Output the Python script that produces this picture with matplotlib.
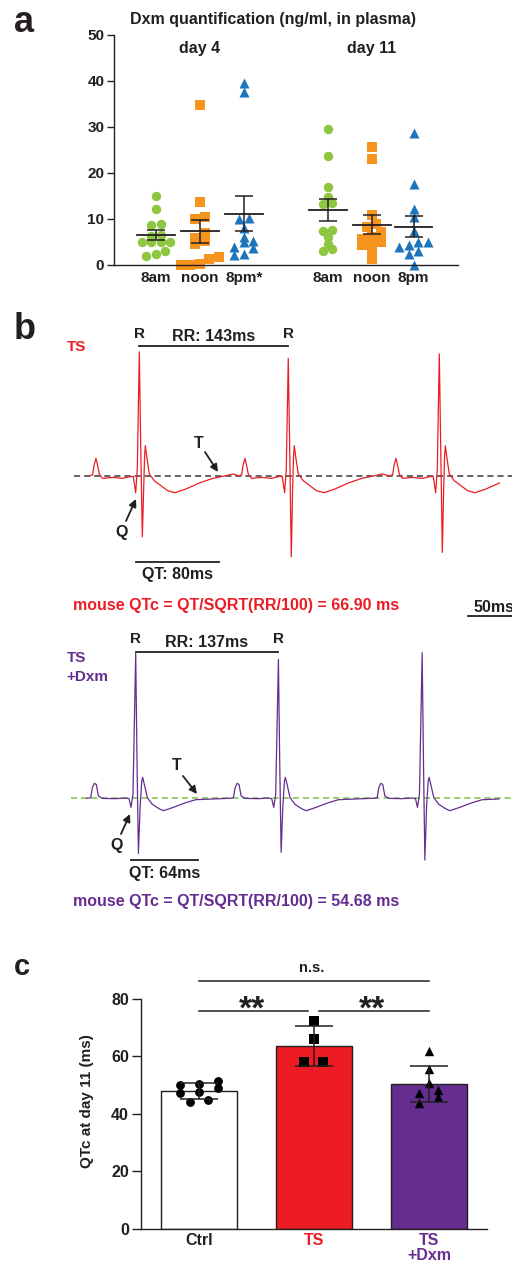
import numpy as np
import matplotlib
matplotlib.use('Agg')
import matplotlib.pyplot as plt

plt.rcParams['font.family'] = ['Liberation Sans', 'DejaVu Sans']
plt.rcParams['font.weight'] = 'bold'
plt.rcParams['axes.labelweight'] = 'bold'

# ---------------- data ----------------
# panel a : Dxm plasma concentration (ng/ml)
a_labels = ['8am', 'noon', '8pm*', '8am', 'noon', '8pm']
d4_8am = [15.0, 12.1, 9.0, 8.8, 6.5, 6.3, 5.1, 5.0, 5.0, 5.1, 3.1, 2.4, 1.9]
d4_noon = [34.7, 13.7, 10.4, 10.0, 6.9, 5.9, 5.2, 4.5, 1.8, 1.2, 0.2, 0.1, 0.1]
d4_8pm = [39.6, 37.6, 10.3, 9.9, 8.1, 6.1, 5.3, 4.9, 4.0, 3.6, 2.3, 2.2]
d11_8am = [29.5, 23.8, 17.0, 14.8, 13.4, 13.2, 7.7, 7.5, 6.0, 4.6, 3.5, 3.0]
d11_noon = [25.6, 23.0, 10.9, 8.9, 8.3, 7.1, 6.0, 5.6, 5.0, 4.7, 4.3, 2.7, 1.2]
d11_8pm = [28.8, 17.6, 12.2, 10.5, 7.5, 4.9, 4.9, 4.3, 4.0, 3.0, 2.5, 0.0]
a_day_labels = ['day 4', 'day 11']

# panel b : ECG beat templates (time from R peak in ms, amplitude a.u.)
ts_tmpl_t = [-48, -44.8, -43.5, -41.6, -40.3, -38.4, -35.2, -25.6, -16, -9.6, -5.8,
             -3.5, -1.9, 0, 1.3, 2.9, 4.2, 5.1, 5.8, 7.0, 9.6, 14.4, 20.8, 27.2,
             34.2, 44.8, 57.6, 70.4, 83.2, 90]
ts_tmpl_v = [0, 0.007, 0.10, 0.173, 0.117, 0.017, -0.027, -0.017, -0.027, -0.01, -0.007,
             -0.17, 0.07, 1.24, 0.33, -0.61, -0.13, 0.2, 0.30, 0.2, 0.017, -0.05, -0.10,
             -0.15, -0.17, -0.133, -0.073, -0.027, 0, 0.017]
ts_r_times = [0, 143, 288]
ts_r_amps = [1.24, 1.173, 1.217]
ts_s_amps = [-0.61, -0.81, -0.767]
ts_end = 350
ts_rr, ts_qt, ts_qtc = 143, 80, 66.90

dx_tmpl_t = [-47, -43.2, -41.6, -39.7, -37.8, -35.8, -32, -19.2, -9.6, -6.4, -4.5,
             -2.6, 0, 1.3, 2.6, 4.2, 5.8, 6.7, 8.3, 11.2, 16, 22.4, 26.6, 35.2, 48,
             57.6, 73.6, 88]
dx_tmpl_v = [-0.007, 0, 0.10, 0.143, 0.133, 0.017, -0.007, -0.01, -0.003, -0.01, -0.097,
             0.033, 1.443, 0.33, -0.557, -0.1, 0.167, 0.203, 0.133, 0, -0.067, -0.11,
             -0.13, -0.10, -0.05, -0.02, -0.013, -0.007]
dx_r_times = [0, 137, 275]
dx_r_amps = [1.443, 1.383, 1.45]
dx_s_amps = [-0.557, -0.547, -0.623]
dx_end = 354
dx_rr, dx_qt, dx_qtc = 137, 64, 54.68

# panel c : QTc at day 11 (ms)
c_labels = ['Ctrl', 'TS', 'TS\n+Dxm']
ctrl = [48.8, 50.3, 47.1, 49.9, 43.9, 51.5, 44.6, 47.4]
ts = [72.2, 66.0, 58.0, 58.0]
tsdxm = [61.8, 55.4, 47.3, 43.6, 45.9, 50.6, 48.2]

# ---------------- style ----------------
RED = '#ED1C24'
PURPLE = '#662D91'
GREEN_DASH = '#77C14A'
GREEN = '#8DC63F'
ORANGE = '#F7941D'
BLUE = '#1C75BC'
BLACK = '#231F20'

W, H = 512, 1262
fig = plt.figure(figsize=(W / 100, H / 100), dpi=100)


def px_axes(x0, y0, x1, y1):
    ax = fig.add_axes([x0 / W, 1 - y1 / H, (x1 - x0) / W, (y1 - y0) / H])
    ax.set_facecolor('none')
    return ax


def ftext(x, y, s, **kw):
    kw.setdefault('fontweight', 'bold')
    kw.setdefault('color', BLACK)
    return fig.text(x / W, 1 - y / H, s, **kw)


def farrow(x0, y0, x1, y1):
    fig.add_artist(matplotlib.patches.FancyArrowPatch(
        (x0 / W, 1 - y0 / H), (x1 / W, 1 - y1 / H), transform=fig.transFigure,
        arrowstyle='-|>', mutation_scale=11, color=BLACK, lw=1.3,
        shrinkA=0, shrinkB=0))


def binned_offsets(vals, bin_h, dx):
    """Scatter-dot-plot style: points in the same value bin are spread sideways."""
    vals = np.asarray(vals, float)
    bins = np.floor(vals / bin_h).astype(int)
    offs = np.zeros(len(vals))
    for b in np.unique(bins):
        idx = np.where(bins == b)[0]
        idx = idx[np.argsort(vals[idx])]
        n = len(idx)
        for k, i in enumerate(idx):
            offs[i] = (k - (n - 1) / 2) * dx
    return offs


def style_axes(ax, fs, tlen):
    for s in ['top', 'right']:
        ax.spines[s].set_visible(False)
    for s in ['left', 'bottom']:
        ax.spines[s].set_linewidth(1.0)
        ax.spines[s].set_color(BLACK)
    ax.tick_params(axis='y', length=tlen, width=1.0, pad=2, labelsize=fs, colors=BLACK)
    ax.tick_params(axis='x', length=0, pad=4, labelsize=fs, colors=BLACK)


# ---------------- panel a ----------------
axa = px_axes(114, 35, 458, 265)
xpos_a = [1, 2, 3, 4.9, 5.9, 6.85]
groups_a = [d4_8am, d4_noon, d4_8pm, d11_8am, d11_noon, d11_8pm]
cols_a = [GREEN, ORANGE, BLUE] * 2
mk_a = ['o', 's', '^'] * 2
sz_a = [46, 50, 52] * 2
A_YPX, A_XPX = 4.6, 44.0
for x, vals, c, m, s in zip(xpos_a, groups_a, cols_a, mk_a, sz_a):
    offs = binned_offsets(vals, 8.5 / A_YPX, 9.5 / A_XPX)
    axa.scatter(x + offs, vals, s=s, marker=m, color=c, linewidths=0, zorder=2,
                clip_on=False)
    v = np.asarray(vals)
    mean = v.mean()
    sem = v.std(ddof=1) / np.sqrt(len(v))
    axa.plot([x - 0.43, x + 0.43], [mean, mean], color=BLACK, lw=1.3, zorder=3)
    axa.errorbar(x, mean, yerr=sem, color=BLACK, capsize=6.8, elinewidth=1.1,
                 capthick=1.1, zorder=3)
axa.set_xlim(0.05, 7.86)
axa.set_ylim(0, 50)
axa.set_yticks(range(0, 51, 10))
axa.set_xticks(xpos_a)
axa.set_xticklabels(a_labels)
style_axes(axa, 11, 5)
axa.text(xpos_a[1], 46.0, a_day_labels[0], ha='center', va='baseline',
         fontsize=11.5, fontweight='bold', color=BLACK)
axa.text(xpos_a[4], 46.0, a_day_labels[1], ha='center', va='baseline',
         fontsize=11.5, fontweight='bold', color=BLACK)
ftext(272.8, 24.3, 'Dxm quantification (ng/ml, in plasma)', ha='center',
      va='baseline', fontsize=11.5)
ftext(14, 32, 'a', fontsize=26, va='baseline')


# ---------------- panel b ----------------
def build_trace(tt, tv, r_times, r_amps, s_amps, t_end):
    tt = np.asarray(tt, float)
    tv = np.asarray(tv, float)
    iR = int(np.argmax(tv))
    iS = int(np.argmin(tv))
    T, V = [], []
    for rt, ra, sa in zip(r_times, r_amps, s_amps):
        v = tv.copy()
        v[iR] = ra
        v[iS] = sa
        T.append(tt + rt)
        V.append(v)
    T = np.concatenate(T)
    V = np.concatenate(V)
    keep = T <= t_end
    q_off = tt[int(np.argmin(tv[:iR]))]
    return T[keep], V[keep], q_off


MS_PER_PX = 0.96

# TS trace
axb1 = px_axes(0, 320, 512, 600)
r1px = 139.3
axb1.set_xlim(-r1px * MS_PER_PX, (512 - r1px) * MS_PER_PX)
axb1.set_ylim(-(600 - 475.7) / 100, (475.7 - 320) / 100)
axb1.axis('off')
T1, V1, q1 = build_trace(ts_tmpl_t, ts_tmpl_v, ts_r_times, ts_r_amps, ts_s_amps, ts_end)
axb1.plot([T1[0] - 15, 400], [0, 0], color='#3A3A3A', lw=1.1, dashes=(4, 2.6),
          clip_on=False, zorder=1)
axb1.plot(T1, V1, color=RED, lw=0.9, zorder=2)
axb1.plot([ts_r_times[0], ts_r_times[1]], [1.30, 1.30], color=BLACK, lw=1.3,
          clip_on=False)
for rt in ts_r_times[:2]:
    axb1.text(rt, 1.374, 'R', ha='center', va='baseline', fontsize=11, color=BLACK)
axb1.text((ts_r_times[0] + ts_r_times[1]) / 2, 1.347, f'RR: {ts_rr}ms', ha='center',
          va='baseline', fontsize=11.5, color=BLACK)
axb1.plot([q1, q1 + ts_qt], [-0.86, -0.86], color=BLACK, lw=1.3, clip_on=False)
axb1.text(q1 + ts_qt / 2, -1.033, f'QT: {ts_qt}ms', ha='center', va='baseline',
          fontsize=11.5, color=BLACK)
sb0 = (468 - r1px) * MS_PER_PX
axb1.plot([sb0, sb0 + 50], [-1.403, -1.403], color=BLACK, lw=1.3, clip_on=False)
axb1.text(sb0 + 25, -1.36, '50ms', ha='center', va='baseline', fontsize=11.5,
          color=BLACK, clip_on=False)
ftext(66.7, 350.7, 'TS', fontsize=11, color=RED, va='baseline')
ftext(199, 448.3, 'T', ha='center', va='baseline', fontsize=11.5)
farrow(205, 452, 218, 472)
ftext(122, 537.3, 'Q', ha='center', va='baseline', fontsize=11.5)
farrow(126, 521, 136, 499)
ftext(73, 610, f'mouse QTc = QT/SQRT(RR/100) = {ts_qtc:.2f} ms', color=RED,
      va='baseline', fontsize=11.5)
ftext(14, 339, 'b', fontsize=26, va='baseline')

# TS + Dxm trace
axb2 = px_axes(0, 630, 512, 910)
r2px = 135.7
axb2.set_xlim(-r2px * MS_PER_PX, (512 - r2px) * MS_PER_PX)
axb2.set_ylim(-(910 - 797.7) / 100, (797.7 - 630) / 100)
axb2.axis('off')
T2, V2, q2 = build_trace(dx_tmpl_t, dx_tmpl_v, dx_r_times, dx_r_amps, dx_s_amps, dx_end)
axb2.plot([T2[0] - 15, 400], [0, 0], color=GREEN_DASH, lw=1.1, dashes=(4, 2.6),
          clip_on=False, zorder=1)
axb2.plot(T2, V2, color=PURPLE, lw=0.9, zorder=2)
axb2.plot([dx_r_times[0], dx_r_times[1]], [1.46, 1.46], color=BLACK, lw=1.3,
          clip_on=False)
for rt in dx_r_times[:2]:
    axb2.text(rt, 1.544, 'R', ha='center', va='baseline', fontsize=11, color=BLACK)
axb2.text((dx_r_times[0] + dx_r_times[1]) / 2, 1.51, f'RR: {dx_rr}ms', ha='center',
          va='baseline', fontsize=11.5, color=BLACK)
axb2.plot([q2, q2 + dx_qt], [-0.623, -0.623], color=BLACK, lw=1.3, clip_on=False)
axb2.text(q2 + dx_qt / 2, -0.806, f'QT: {dx_qt}ms', ha='center', va='baseline',
          fontsize=11.5, color=BLACK)
ftext(66.7, 661.7, 'TS', fontsize=11, color=PURPLE, va='baseline')
ftext(66.7, 681, '+Dxm', fontsize=11, color=PURPLE, va='baseline')
ftext(177, 770, 'T', ha='center', va='baseline', fontsize=11.5)
farrow(183, 776, 197, 794)
ftext(117, 850, 'Q', ha='center', va='baseline', fontsize=11.5)
farrow(121, 834, 130, 814)
ftext(73, 906, f'mouse QTc = QT/SQRT(RR/100) = {dx_qtc:.2f} ms', color=PURPLE,
      va='baseline', fontsize=11.5)

# ---------------- panel c ----------------
axc = px_axes(140.7, 998.7, 486.7, 1228.7)
xc = np.arange(3)
groups_c = [ctrl, ts, tsdxm]
means_c = [np.mean(g) for g in groups_c]
sds_c = [np.std(g, ddof=1) for g in groups_c]
axc.bar(xc, means_c, width=0.667, color=['white', RED, PURPLE], edgecolor=BLACK,
        linewidth=1.0, zorder=1)
C_YPX, C_XPX = 2.875, 115.0
for x, vals, m, s in zip(xc, groups_c, ['o', 's', '^'], [40, 52, 46]):
    offs = binned_offsets(vals, 8.3 / C_YPX, 19.0 / C_XPX)
    axc.scatter(x + offs, vals, s=s, marker=m, color='black', linewidths=0, zorder=2)
axc.errorbar(xc, means_c, yerr=sds_c, fmt='none', ecolor=BLACK, capsize=13.7,
             elinewidth=1.1, capthick=1.1, zorder=3)
axc.set_xlim(-0.507, 2.502)
axc.set_ylim(0, 80)
axc.set_yticks(range(0, 81, 20))
axc.set_xticks(xc)
axc.set_xticklabels(c_labels)
style_axes(axc, 11.5, 6.5)
axc.tick_params(axis='x', pad=3)
for lab, col in zip(axc.get_xticklabels(), [BLACK, RED, PURPLE]):
    lab.set_color(col)
    lab.set_linespacing(1.05)
axc.plot([0, 0.95], [75.7, 75.7], color=BLACK, lw=1.1, clip_on=False)
axc.plot([1.046, 2], [75.7, 75.7], color=BLACK, lw=1.1, clip_on=False)
axc.plot([0, 2], [86.2, 86.2], color=BLACK, lw=1.1, clip_on=False)
ftext(251.7, 1019, '**', ha='center', va='baseline', fontsize=24)
ftext(371.7, 1019, '**', ha='center', va='baseline', fontsize=24)
ftext(311.7, 972, 'n.s.', ha='center', va='baseline', fontsize=10.5)
ftext(87, 1101, 'QTc at day 11 (ms)', rotation=90, ha='center', va='center',
      fontsize=11)
ftext(14, 975, 'c', fontsize=21, va='baseline')

fig.savefig('out.png', dpi=100)
